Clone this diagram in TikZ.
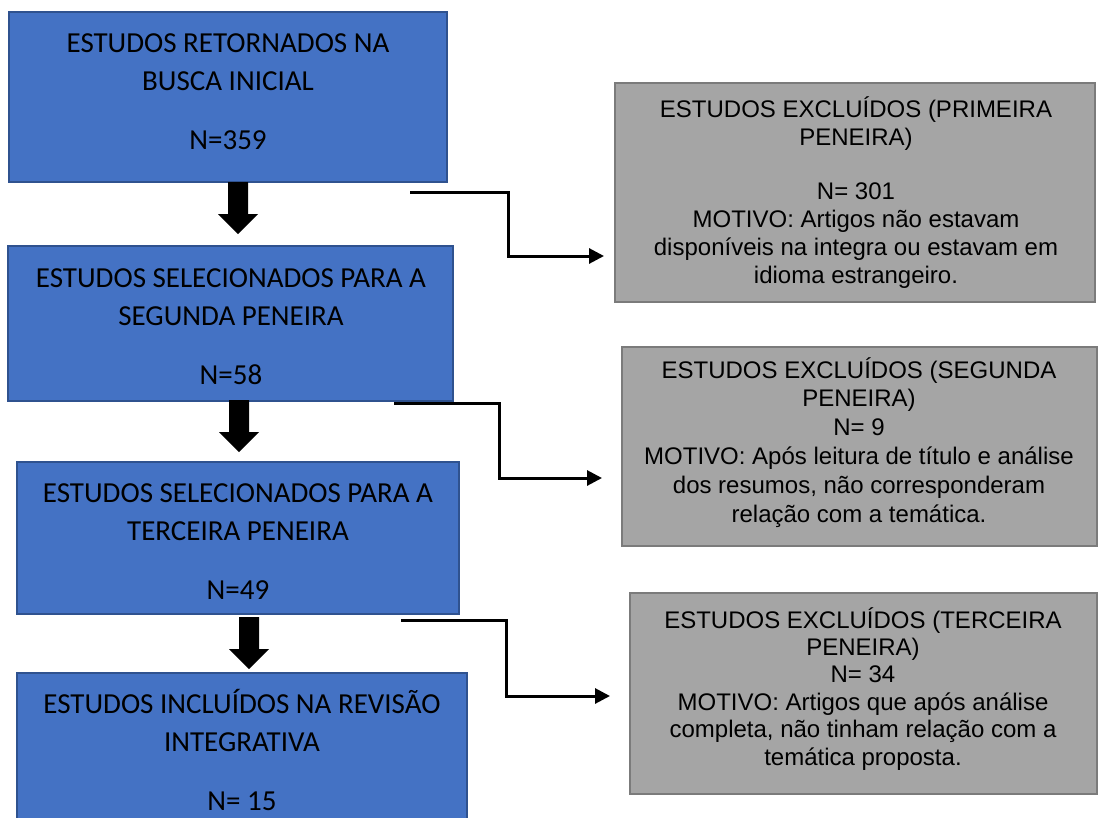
\documentclass[tikz,border=0pt]{standalone}
\usepackage{fontspec}
\setmainfont{Liberation Sans}
\newfontfamily\calibri{Carlito}
\usetikzlibrary{arrows.meta}
\definecolor{boxblue}{HTML}{4472C4}
\definecolor{boxblueline}{HTML}{2F528F}
\definecolor{boxgray}{HTML}{A5A5A5}
\definecolor{boxgrayline}{HTML}{7B7B7B}
\begin{document}
\begin{tikzpicture}[x=1pt,y=-1pt,
  bluebox/.style={draw=boxblueline, fill=boxblue, line width=1.3pt, inner sep=0pt},
  graybox/.style={draw=boxgrayline, fill=boxgray, line width=2pt, inner sep=0pt},
  bluetext/.style={font=\calibri\fontsize{29}{38}\selectfont, align=center, anchor=base, inner sep=0pt},
  graytext/.style={font=\fontsize{24}{28}\selectfont, align=center, anchor=base, inner sep=0pt},
  flow/.style={line width=3pt, -{Triangle[length=15pt,width=15pt]}},
  fatdown/.pic={\fill[black] (-10,0) -- (10,0) -- (10,32) -- (20,32) -- (0,52) -- (-20,32) -- (-10,32) -- cycle;}
]
\useasboundingbox (0,0) rectangle (1098,817);
\clip (0,0) rectangle (1098,817);

% blue boxes
\node[bluebox, minimum width=438pt, minimum height=170pt] (b1) at (228,97) {};
\node[bluebox, minimum width=445pt, minimum height=155pt] (b2) at (230.5,323.5) {};
\node[bluebox, minimum width=442pt, minimum height=152pt] (b3) at (238,538) {};
\node[bluebox, minimum width=450pt, minimum height=170pt] (b4) at (242,758) {};

% (anchor=base sits on the last line's baseline)
\node[bluetext] (b1t) at (228,149) {ESTUDOS RETORNADOS NA\\BUSCA INICIAL\\[21pt]N=359};
\node[bluetext] (b2t) at (231,384) {ESTUDOS SELECIONADOS PARA A\\SEGUNDA PENEIRA\\[21pt]N=58};
\node[bluetext] (b3t) at (238,599) {ESTUDOS SELECIONADOS PARA A\\TERCEIRA PENEIRA\\[21pt]N=49};
\node[bluetext] (b4t) at (242,810) {ESTUDOS INCLUÍDOS NA REVISÃO\\INTEGRATIVA\\[21pt]N= 15};

% gray boxes
\node[graybox, minimum width=480pt, minimum height=219pt] (g1) at (855,192.5) {};
\node[graybox, minimum width=475pt, minimum height=199pt] (g2) at (859.5,446.5) {};
\node[graybox, minimum width=467pt, minimum height=201pt] (g3) at (863.5,693.5) {};

\node[graytext] (g1t) at (856,283) {ESTUDOS EXCLUÍDOS (PRIMEIRA\\PENEIRA)\\[26pt]N= 301\\MOTIVO: Artigos não estavam\\disponíveis na integra ou estavam em\\idioma estrangeiro.};
\node[graytext, font=\fontsize{24}{28.8}\selectfont] (g2t) at (859,522) {ESTUDOS EXCLUÍDOS (SEGUNDA\\PENEIRA)\\N= 9\\MOTIVO: Após leitura de título e análise\\dos resumos, não corresponderam\\relação com a temática.};
\node[graytext, font=\fontsize{24}{27.4}\selectfont] (g3t) at (863,765) {ESTUDOS EXCLUÍDOS (TERCEIRA\\PENEIRA)\\N= 34\\MOTIVO: Artigos que após análise\\completa, não tinham relação com a\\temática proposta.};

% block arrows between blue boxes
\pic at (238,182) {fatdown};
\pic at (239,400) {fatdown};
\pic at (249,617) {fatdown};

% elbow connectors to excluded boxes
\coordinate (c1s) at (410,192);
\coordinate (c1m) at (508,256);
\coordinate (c1e) at ([xshift=-10pt]g1.west |- c1m);
\draw[flow] (c1s) -| (c1m) -- (c1e);

\coordinate (c2s) at (394,403);
\coordinate (c2m) at (499,478);
\coordinate (c2e) at ([xshift=-19pt]g2.west |- c2m);
\draw[flow] (c2s) -| (c2m) -- (c2e);

\coordinate (c3s) at (401,620);
\coordinate (c3m) at (506,696);
\coordinate (c3e) at ([xshift=-19pt]g3.west |- c3m);
\draw[flow] (c3s) -| (c3m) -- (c3e);
\end{tikzpicture}
\end{document}
